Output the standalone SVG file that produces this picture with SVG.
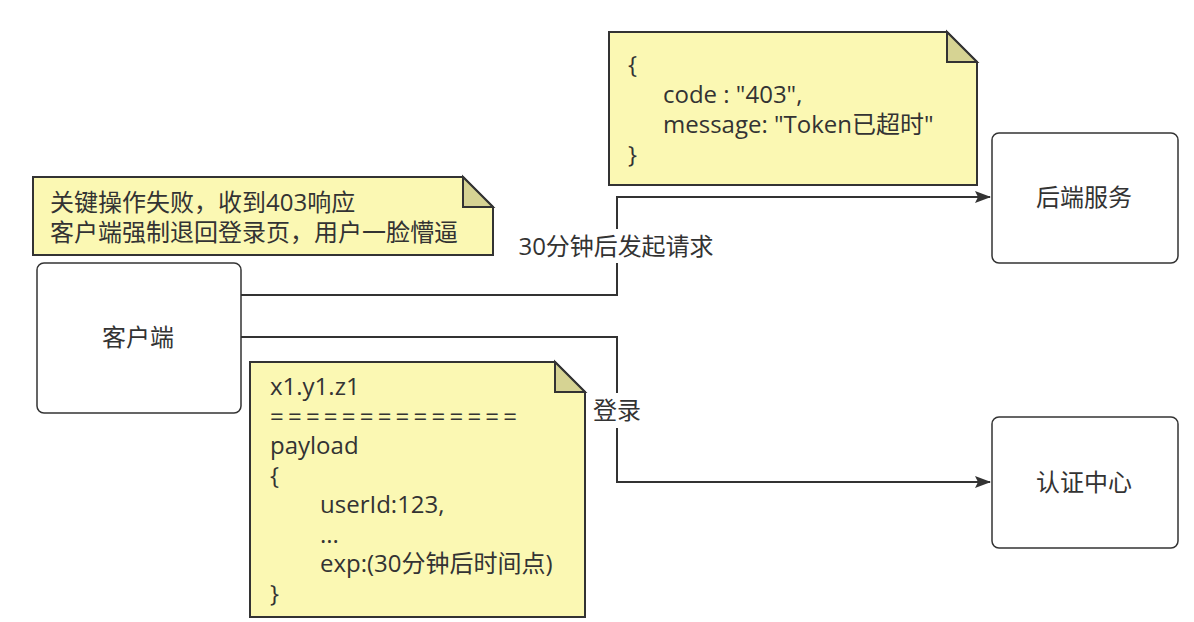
<svg xmlns="http://www.w3.org/2000/svg" width="1194" height="622" viewBox="0 0 1194 622">
<defs>
<style>
.t{font-family:"Open Sans","Noto Sans CJK SC",sans-serif;font-size:24px;fill:#333;}
.box{fill:#fff;stroke:#333;stroke-width:1.5;}
.note{fill:#fbf8b3;stroke:#333;stroke-width:2;}
.fold{fill:#d6d393;stroke:#333;stroke-width:2;stroke-linejoin:miter;}
.edge{fill:none;stroke:#333;stroke-width:2;}
.lbl{fill:#fff;stroke:none;}
</style>
<marker id="arr" markerWidth="16" markerHeight="12" refX="15" refY="6" orient="auto" markerUnits="userSpaceOnUse">
<path d="M0,0 L16,6 L0,12 L3,6 Z" fill="#333"/>
</marker>
</defs>
<rect width="1194" height="622" fill="#fff"/>

<g id="connectors">
<path class="edge" d="M241,295 H617 V197 H990" marker-end="url(#arr)"/>
<path class="edge" d="M241,337 H617 V482 H990" marker-end="url(#arr)"/>
<rect class="lbl" x="516" y="229" width="200" height="34"/>
<text class="t" x="616" y="255" text-anchor="middle" textLength="195" lengthAdjust="spacing">30分钟后发起请求</text>
<rect class="lbl" x="592" y="393" width="50" height="35"/>
<text class="t" x="617" y="419" text-anchor="middle">登录</text>
</g>

<g id="note-response">
<polygon class="note" points="609,32 947,32 977,62 977,185 609,185"/>
<polygon class="fold" points="947,32 947,62 977,62"/>
<text class="t" x="628" y="73">{</text>
<text class="t" x="663" y="103">code : "403",</text>
<text class="t" x="663" y="133">message: "Token已超时"</text>
<text class="t" x="628" y="163">}</text>
</g>

<g id="backend">
<rect class="box" x="992" y="133" width="186" height="130" rx="7"/>
<text class="t" x="1084" y="206" text-anchor="middle">后端服务</text>
</g>

<g id="note-fail">
<polygon class="note" points="33,177 463,177 493,207 493,255 33,255"/>
<polygon class="fold" points="463,177 463,207 493,207"/>
<text class="t" x="50" y="211">关键操作失败，收到403响应</text>
<text class="t" x="50" y="241">客户端强制退回登录页，用户一脸懵逼</text>
</g>

<g id="client">
<rect class="box" x="37" y="263" width="204" height="150" rx="7"/>
<text class="t" x="138" y="346" text-anchor="middle">客户端</text>
</g>

<g id="note-token">
<polygon class="note" points="250,362 555,362 585,392 585,617 250,617"/>
<polygon class="fold" points="555,362 555,392 585,392"/>
<text class="t" x="270" y="395">x1.y1.z1</text>
<text class="t" x="270" y="425" textLength="247" lengthAdjust="spacing">==============</text>
<text class="t" x="270" y="454">payload</text>
<text class="t" x="270" y="484">{</text>
<text class="t" x="320" y="513">userId:123,</text>
<text class="t" x="320" y="543">...</text>
<text class="t" x="320" y="572">exp:(30分钟后时间点)</text>
<text class="t" x="270" y="602">}</text>
</g>

<g id="auth">
<rect class="box" x="992" y="417" width="186" height="131" rx="7"/>
<text class="t" x="1084" y="491" text-anchor="middle">认证中心</text>
</g>
</svg>
